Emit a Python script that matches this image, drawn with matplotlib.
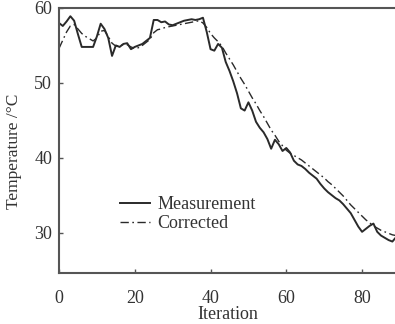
import numpy as np
import matplotlib
matplotlib.use("Agg")
import matplotlib.pyplot as plt

iteration = list(range(0, 90))

measurement = [
    58.0, 57.6, 58.2, 58.9, 58.3, 56.5, 54.8, 54.8, 54.8, 54.8,
    56.2, 57.9, 57.2, 56.0, 53.6, 55.0, 54.8, 55.2, 55.3, 54.5,
    54.8, 55.0, 55.2, 55.6, 56.0, 58.4, 58.4, 58.1, 58.2, 57.8,
    57.7, 57.9, 58.1, 58.3, 58.4, 58.5, 58.4, 58.5, 58.7, 56.8,
    54.5, 54.3, 55.2, 54.7, 52.8, 51.6, 50.2, 48.6, 46.6, 46.3,
    47.4, 46.3, 44.8, 44.0, 43.4, 42.5, 41.2, 42.4, 41.8, 40.9,
    41.3, 40.7, 39.6, 39.1, 38.9, 38.5, 38.0, 37.6, 37.2, 36.5,
    35.9, 35.4, 35.0, 34.6, 34.3, 33.8, 33.2, 32.6, 31.7, 30.8,
    30.1, 30.5, 30.9, 31.2, 30.1, 29.6, 29.3, 29.0, 28.8, 29.4,
]

corrected = [
    54.6, 55.7, 56.8, 57.6, 57.8, 57.2, 56.6, 56.2, 55.9, 55.6,
    56.0, 56.9, 57.0, 56.2, 55.3, 54.9, 55.0, 55.1, 55.1, 54.8,
    54.6, 54.7, 55.0, 55.4, 55.8, 56.7, 57.1, 57.2, 57.4, 57.5,
    57.6, 57.7, 57.8, 57.9, 58.0, 58.1, 58.2, 58.3, 58.0, 57.4,
    56.6, 56.0, 55.5, 54.9, 54.0, 53.2, 52.4, 51.5, 50.6, 49.8,
    48.9, 48.0, 47.2, 46.3, 45.5, 44.6, 43.7, 43.0, 42.2, 41.6,
    41.0, 40.6, 40.3, 40.0, 39.7, 39.3, 38.9, 38.5, 38.1, 37.7,
    37.3, 36.8, 36.4, 35.9, 35.4, 34.9, 34.3, 33.7, 33.2, 32.7,
    32.2, 31.7, 31.3, 30.9, 30.6, 30.3, 30.1, 29.9, 29.7, 29.6,
]

x_ticks = [0, 20, 40, 60, 80]
y_ticks = [30, 40, 50, 60]
labels = ["Measurement", "Corrected"]

plt.rcParams['font.family'] = ['Liberation Serif', 'DejaVu Serif']

fig = plt.figure(figsize=(3.95, 3.24), dpi=100)
ax = fig.add_axes([59/395, 51/324, 1 - 59/395 + 0.002, 265/324])

ax.plot(iteration, measurement, color='#2a2a2a', lw=1.4, label=labels[0])
ax.plot(iteration, corrected, color='#2a2a2a', lw=1.0,
        linestyle=(0, (6, 2.5, 1.2, 2.5)), label=labels[1])

ax.set_xlim(0, 88.9)
ax.set_ylim(24.6, 60)
ax.set_xticks(x_ticks)
ax.set_yticks(y_ticks)

for side in ['left', 'bottom', 'top']:
    ax.spines[side].set_linewidth(1.5)
    ax.spines[side].set_color('#555555')
ax.spines['right'].set_visible(False)

ax.tick_params(direction='in', length=3, width=1, colors='#555555',
               labelcolor='#333333', labelsize=13, pad=5)
ax.tick_params(axis='x', pad=12)

ax.set_xlabel('Iteration', fontsize=13, color='#333333')
ax.xaxis.set_label_coords(0.5, -0.158)
ax.xaxis.label.set_va('center')
ax.set_ylabel('Temperature /°C', fontsize=12.5, color='#333333')
ax.yaxis.set_label_coords(-0.11, 0.46)

leg = ax.legend(loc='upper left', bbox_to_anchor=(0.18, 0.29), frameon=False,
                fontsize=13, handlelength=1.7, handletextpad=0.4,
                labelspacing=0.1, borderaxespad=0, borderpad=0)
for t in leg.get_texts():
    t.set_color('#333333')

fig.savefig('out.png', dpi=100)
